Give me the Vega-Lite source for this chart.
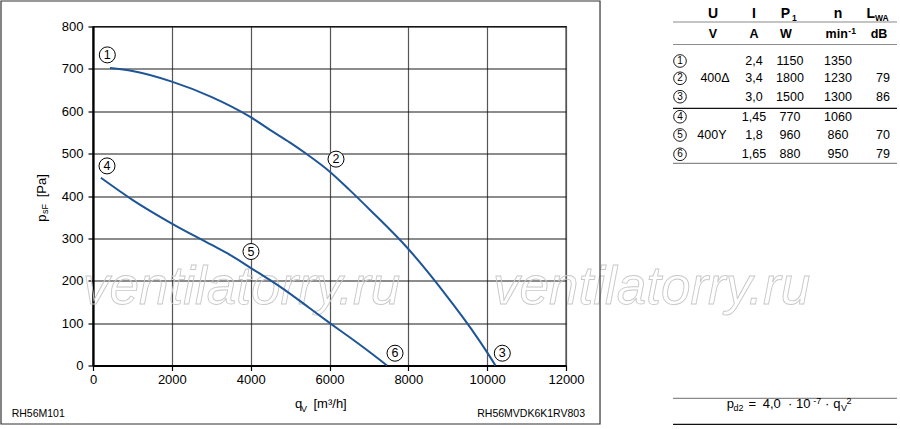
{
  "$schema": "https://vega.github.io/schema/vega-lite/v6.json",
  "autosize": {"type": "none"},
  "width": 473,
  "height": 339,
  "padding": {"left": 93, "top": 26.5, "right": 334, "bottom": 63.5},
  "background": "white",
  "config": {
    "view": {"stroke": "#111", "strokeWidth": 1.3},
    "font": "Liberation Sans",
    "text": {"font": "Liberation Sans"}
  },
  "datasets": {
    "curves": [
      {"s": "a", "q": 430, "p": 702}, {"s": "a", "q": 1000, "p": 695}, {"s": "a", "q": 2000, "p": 670},
      {"s": "a", "q": 3000, "p": 634}, {"s": "a", "q": 4000, "p": 586}, {"s": "a", "q": 4490, "p": 556},
      {"s": "a", "q": 5000, "p": 526}, {"s": "a", "q": 5420, "p": 499}, {"s": "a", "q": 6000, "p": 458},
      {"s": "a", "q": 6500, "p": 415}, {"s": "a", "q": 7030, "p": 367}, {"s": "a", "q": 8000, "p": 275},
      {"s": "a", "q": 9000, "p": 161}, {"s": "a", "q": 9600, "p": 86}, {"s": "a", "q": 10000, "p": 31},
      {"s": "a", "q": 10210, "p": 0},
      {"s": "b", "q": 200, "p": 443}, {"s": "b", "q": 1000, "p": 391}, {"s": "b", "q": 2000, "p": 335},
      {"s": "b", "q": 3000, "p": 285}, {"s": "b", "q": 3476, "p": 261}, {"s": "b", "q": 4008, "p": 230},
      {"s": "b", "q": 4871, "p": 178}, {"s": "b", "q": 5500, "p": 135}, {"s": "b", "q": 6010, "p": 100},
      {"s": "b", "q": 6520, "p": 66}, {"s": "b", "q": 7000, "p": 33}, {"s": "b", "q": 7460, "p": 0}
    ],
    "labels": [
      {"n": "1", "q": 363, "p": 733}, {"n": "2", "q": 6165, "p": 487}, {"n": "3", "q": 10384, "p": 29},
      {"n": "4", "q": 355, "p": 471}, {"n": "5", "q": 4008, "p": 269}, {"n": "6", "q": 7662, "p": 29}
    ],
    "watermark": [
      {"t": "ventilatorry.ru", "q": -254, "p": 146},
      {"t": "ventilatorry.ru", "q": 10148, "p": 146}
    ],
    "frame": [{"q": -2334, "q2": 12863, "p": 860.2, "p2": -138.1}],
    "tcirc": [
      {"n": "1", "q": 14892, "p": 718.6}, {"n": "2", "q": 14892, "p": 677.8}, {"n": "3", "q": 14892, "p": 634.3},
      {"n": "4", "q": 14892, "p": 587.1}, {"n": "5", "q": 14892, "p": 544.0}, {"n": "6", "q": 14892, "p": 498.4}
    ],
    "theader": [
      {"t": "U", "q": 15729, "p": 819.4}, {"t": "I", "q": 16770, "p": 819.4}, {"t": "P", "q": 17564, "p": 819.4},
      {"t": "n", "q": 18901, "p": 819.4}, {"t": "L", "q": 19734, "p": 819.4}
    ],
    "theadsub": [
      {"t": "1", "q": 17732, "p": 814}, {"t": "WA", "q": 19839, "p": 814}
    ],
    "tunits": [
      {"t": "V", "q": 15729, "p": 772.2}, {"t": "A", "q": 16770, "p": 772.2}, {"t": "W", "q": 17581, "p": 772.2},
      {"t": "min", "q": 18867, "p": 772.2}, {"t": "dB", "q": 19941, "p": 772.2}
    ],
    "tunitsup": [{"t": "-1", "q": 19162, "p": 782.3}],
    "tvalues": [
      {"t": "2,4", "q": 16770, "p": 709.2}, {"t": "1150", "q": 17683, "p": 709.2}, {"t": "1350", "q": 18901, "p": 709.2},
      {"t": "400Δ", "q": 15780, "p": 668.4}, {"t": "3,4", "q": 16770, "p": 668.4}, {"t": "1800", "q": 17683, "p": 668.4}, {"t": "1230", "q": 18901, "p": 668.4}, {"t": "79", "q": 20042, "p": 668.4},
      {"t": "3,0", "q": 16770, "p": 624.9}, {"t": "1500", "q": 17683, "p": 624.9}, {"t": "1300", "q": 18901, "p": 624.9}, {"t": "86", "q": 20042, "p": 624.9},
      {"t": "1,45", "q": 16770, "p": 577.7}, {"t": "770", "q": 17683, "p": 577.7}, {"t": "1060", "q": 18901, "p": 577.7},
      {"t": "400Y", "q": 15703, "p": 534.5}, {"t": "1,8", "q": 16770, "p": 534.5}, {"t": "960", "q": 17683, "p": 534.5}, {"t": "860", "q": 18901, "p": 534.5}, {"t": "70", "q": 20042, "p": 534.5},
      {"t": "1,65", "q": 16770, "p": 489.0}, {"t": "880", "q": 17683, "p": 489.0}, {"t": "950", "q": 18901, "p": 489.0}, {"t": "79", "q": 20042, "p": 489.0}
    ],
    "rgray": [
      {"q": 14715, "q2": 20397, "p": 810.6}, {"q": 14715, "q2": 20397, "p": 757.5},
      {"q": 14715, "q2": 20397, "p": 477.2}, {"q": 14715, "q2": 20397, "p": -77.4}
    ],
    "rdark": [
      {"q": 14715, "q2": 20397, "p": 607}, {"q": 14715, "q2": 20397, "p": -138.8}
    ],
    "main13": [
      {"t": "p", "q": 16077, "p": -101}, {"t": "=", "q": 16630, "p": -101}, {"t": "4,0", "q": 16990, "p": -101},
      {"t": "·", "q": 17632, "p": -101}, {"t": "10", "q": 17835, "p": -101},
      {"t": "·", "q": 18571, "p": -101}, {"t": "q", "q": 18782, "p": -101},
      {"t": "q", "q": 5125, "p": -101}, {"t": "[m³/h]", "q": 5594, "p": -101}
    ],
    "small9": [
      {"t": "d2", "q": 16249, "p": -107.4}, {"t": "-7", "q": 18274, "p": -90.9}, {"t": "V", "q": 18977, "p": -107.4},
      {"t": "2", "q": 19116, "p": -90.9}, {"t": "V", "q": 5277, "p": -108.6}
    ],
    "ytitle13": [
      {"t": "p", "q": -1192, "p": 339.5}, {"t": "[Pa]", "q": -1192, "p": 397}
    ],
    "ytitle9": [{"t": "sF", "q": -1129, "p": 357.5}],
    "footleft": [{"t": "RH56M101", "q": -2063, "p": -122.2}],
    "footright": [{"t": "RH56MVDK6K1RV803", "q": 12482, "p": -122.2}]
  },
  "encoding": {
    "x": {
      "field": "q", "type": "quantitative",
      "scale": {"domain": [0, 12000], "nice": false, "zero": false},
      "axis": {
        "title": null, "values": [0, 2000, 4000, 6000, 8000, 10000, 12000], "format": "d",
        "grid": true, "gridColor": "#555", "gridWidth": 1.2,
        "domainColor": "#000", "domainWidth": 2.2,
        "tickColor": "#000", "tickSize": 5, "tickWidth": 1.2,
        "labelFont": "Liberation Sans", "labelFontSize": 13, "labelColor": "#000",
        "labelPadding": 3, "labelOverlap": false, "labelFlush": false, "labelBound": false
      }
    },
    "y": {
      "field": "p", "type": "quantitative",
      "scale": {"domain": [0, 800], "nice": false, "zero": false},
      "axis": {
        "title": null, "values": [0, 100, 200, 300, 400, 500, 600, 700, 800], "format": "d",
        "grid": true, "gridColor": "#1a1a1a", "gridWidth": 1.2,
        "domainColor": "#000", "domainWidth": 2.2,
        "tickColor": "#000", "tickSize": 5, "tickWidth": 1.2,
        "labelFont": "Liberation Sans", "labelFontSize": 13, "labelColor": "#000",
        "labelPadding": 5, "labelOverlap": false, "labelFlush": false, "labelBound": false
      }
    }
  },
  "layer": [
    {
      "data": {"name": "watermark"},
      "mark": {"type": "text", "align": "left", "baseline": "alphabetic", "fontSize": 53, "fontStyle": "italic", "font": "Liberation Sans", "fillOpacity": 0, "stroke": "#c8c8c8", "strokeWidth": 0.9},
      "encoding": {"text": {"field": "t"}}
    },
    {
      "data": {"name": "frame"},
      "mark": {"type": "rect", "fillOpacity": 0, "stroke": "#333", "strokeWidth": 1.2},
      "encoding": {"x2": {"field": "q2"}, "y2": {"field": "p2"}}
    },
    {
      "data": {"name": "curves"},
      "mark": {"type": "line", "color": "#1d5596", "strokeWidth": 2, "interpolate": "monotone"},
      "encoding": {"detail": {"field": "s"}}
    },
    {
      "data": {"name": "labels"},
      "mark": {"type": "point", "shape": "circle", "size": 256, "filled": true, "fill": "white", "stroke": "#000", "strokeWidth": 1, "opacity": 1}
    },
    {
      "data": {"name": "labels"},
      "mark": {"type": "text", "align": "center", "baseline": "middle", "fontSize": 12.5, "color": "#000"},
      "encoding": {"text": {"field": "n"}}
    },
    {
      "data": {"name": "tcirc"},
      "mark": {"type": "point", "shape": "circle", "size": 160, "filled": true, "fill": "white", "stroke": "#000", "strokeWidth": 0.9, "opacity": 1}
    },
    {
      "data": {"name": "tcirc"},
      "mark": {"type": "text", "align": "center", "baseline": "middle", "fontSize": 10, "color": "#000"},
      "encoding": {"text": {"field": "n"}}
    },
    {
      "data": {"name": "rgray"},
      "mark": {"type": "rule", "color": "#8a8a8a", "strokeWidth": 1.2},
      "encoding": {"x2": {"field": "q2"}}
    },
    {
      "data": {"name": "rdark"},
      "mark": {"type": "rule", "color": "#111", "strokeWidth": 1.2},
      "encoding": {"x2": {"field": "q2"}}
    },
    {
      "data": {"name": "theader"},
      "mark": {"type": "text", "align": "center", "baseline": "alphabetic", "fontSize": 14, "fontWeight": "bold", "color": "#000"},
      "encoding": {"text": {"field": "t"}}
    },
    {
      "data": {"name": "theadsub"},
      "mark": {"type": "text", "align": "left", "baseline": "alphabetic", "fontSize": 8.5, "fontWeight": "bold", "color": "#000"},
      "encoding": {"text": {"field": "t"}}
    },
    {
      "data": {"name": "tunits"},
      "mark": {"type": "text", "align": "center", "baseline": "alphabetic", "fontSize": 12.5, "fontWeight": "bold", "color": "#000"},
      "encoding": {"text": {"field": "t"}}
    },
    {
      "data": {"name": "tunitsup"},
      "mark": {"type": "text", "align": "left", "baseline": "alphabetic", "fontSize": 8.5, "fontWeight": "bold", "color": "#000"},
      "encoding": {"text": {"field": "t"}}
    },
    {
      "data": {"name": "tvalues"},
      "mark": {"type": "text", "align": "center", "baseline": "alphabetic", "fontSize": 12.5, "color": "#000"},
      "encoding": {"text": {"field": "t"}}
    },
    {
      "data": {"name": "main13"},
      "mark": {"type": "text", "align": "left", "baseline": "alphabetic", "fontSize": 13, "color": "#000"},
      "encoding": {"text": {"field": "t"}}
    },
    {
      "data": {"name": "small9"},
      "mark": {"type": "text", "align": "left", "baseline": "alphabetic", "fontSize": 9, "color": "#000"},
      "encoding": {"text": {"field": "t"}}
    },
    {
      "data": {"name": "ytitle13"},
      "mark": {"type": "text", "align": "left", "baseline": "alphabetic", "angle": 270, "fontSize": 13, "color": "#000"},
      "encoding": {"text": {"field": "t"}}
    },
    {
      "data": {"name": "ytitle9"},
      "mark": {"type": "text", "align": "left", "baseline": "alphabetic", "angle": 270, "fontSize": 9, "color": "#000"},
      "encoding": {"text": {"field": "t"}}
    },
    {
      "data": {"name": "footleft"},
      "mark": {"type": "text", "align": "left", "baseline": "alphabetic", "fontSize": 10.5, "color": "#000"},
      "encoding": {"text": {"field": "t"}}
    },
    {
      "data": {"name": "footright"},
      "mark": {"type": "text", "align": "right", "baseline": "alphabetic", "fontSize": 10.5, "color": "#000"},
      "encoding": {"text": {"field": "t"}}
    }
  ]
}
